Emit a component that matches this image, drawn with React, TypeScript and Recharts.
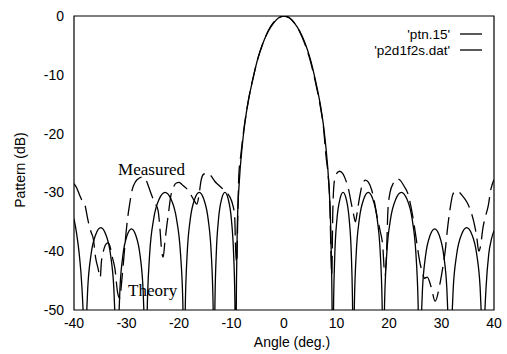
import { LineChart, Line, XAxis, YAxis, ReferenceArea, ReferenceDot, Legend } from "recharts";

const xTicks = [-40, -30, -20, -10, 0, 10, 20, 30, 40];
const yTicks = [-50, -40, -30, -20, -10, 0];
const seriesNames = ["'ptn.15'", "'p2d1f2s.dat'"];

// theory pattern ('ptn.15'), nulls pushed below the axis floor
const theoryAngle = [
  -40, -39.5, -39, -38.5, -38.2, -38,
  -37.75, -37.38, -36.76, -35.83, -34.9, -33.97, -33.04, -32.42, -32.05, -31.8,
  -31.58, -31.25, -30.7, -29.88, -29.05, -28.23, -27.4, -26.85, -26.52, -26.3,
  -26.0, -25.57, -24.84, -23.75, -22.65, -21.55, -20.46, -19.73, -19.29, -19,
  -18.77, -18.43, -17.86, -17.0, -16.15, -15.3, -14.44, -13.87, -13.53, -13.3,
  -13.14, -12.89, -12.48, -11.87, -11.25, -10.64, -10.02, -9.61, -9.36, -9.2,
  -9.05, -8.9, -8.5, -8, -7.5, -7, -6, -5, -4, -3, -2, -1, 0,
  1, 2, 3, 4, 5, 6, 7, 7.5, 8, 8.5, 8.9, 9.1, 9.3,
  9.46, 9.69, 10.08, 10.67, 11.25, 11.84, 12.42, 12.81, 13.04, 13.2,
  13.43, 13.77, 14.34, 15.2, 16.05, 16.9, 17.76, 18.33, 18.67, 18.9,
  19.18, 19.59, 20.28, 21.32, 22.35, 23.39, 24.42, 25.11, 25.52, 25.8,
  26.03, 26.38, 26.96, 27.83, 28.7, 29.57, 30.44, 31.02, 31.37, 31.6,
  31.86, 32.24, 32.88, 33.84, 34.8, 35.76, 36.72, 37.36, 37.74, 38,
  38.2, 38.5, 39, 39.5, 40,
];
const theoryDb = [
  -34.5, -37, -40.5, -46, -52, -60,
  -54, -46.2, -40.6, -37.1, -36, -37.1, -40.6, -46.2, -54, -60,
  -54.2, -46.4, -40.8, -37.3, -36.2, -37.3, -40.8, -46.4, -54.2, -60,
  -48, -40.2, -34.6, -31.1, -30, -31.1, -34.6, -40.2, -48, -60,
  -48, -40.2, -34.6, -31.1, -30, -31.1, -34.6, -40.2, -48, -60,
  -48, -40.2, -34.6, -31.1, -30, -31.1, -34.6, -40.2, -48, -60,
  -45, -36, -28, -22.5, -18.5, -15.5, -11, -7.3, -4.6, -2.6, -1.2, -0.3, 0,
  -0.3, -1.2, -2.6, -4.6, -7.3, -11, -15.5, -18.5, -22.5, -28, -36, -45, -60,
  -48, -40.2, -34.6, -31.1, -30, -31.1, -34.6, -40.2, -48, -60,
  -48, -40.2, -34.6, -31.1, -30, -31.1, -34.6, -40.2, -48, -60,
  -48, -40.2, -34.6, -31.1, -30, -31.1, -34.6, -40.2, -48, -60,
  -54.2, -46.4, -40.8, -37.3, -36.2, -37.3, -40.8, -46.4, -54.2, -60,
  -54, -46.2, -40.6, -37.1, -36, -37.1, -40.6, -46.2, -54, -60,
  -52, -46, -40.5, -38, -36.5,
];

// measured pattern ('p2d1f2s.dat')
const measuredAngle = [
  -40, -39.5, -39, -38.4, -37.9, -37.5, -37.2, -36.8, -36.3, -35.9, -35.4, -35.0,
  -34.8, -34.4, -33.9, -33.5, -33.1, -32.7, -32.2, -31.7, -31.3, -30.9, -30.5, -30.1,
  -29.8, -29.4, -28.9, -28.3, -27.6, -27, -26.4, -25.8, -25.2, -24.6, -24, -23.6,
  -23.3, -23.0, -22.7, -22.3, -22.0, -21.6, -21.1, -20.5, -20, -19.5, -19, -18.5,
  -17.8, -17.1, -16.6, -16.2, -15.8, -15.3, -14.6, -13.9, -13.2, -12.5, -11.8, -11.0,
  -10.3, -9.8, -9.4, -9.2, -9.0, -8.8, -8.6, -8.2, -7.7, -7.2, -6.5, -6, -5, -4, -3,
  -2, -1, 0, 1, 2, 3, 4, 5, 6, 7, 7.5, 8, 8.4, 8.7, 9.0, 9.1, 9.3, 9.6, 10.0, 10.6,
  11.2, 11.8, 12.3, 12.8, 13.2, 13.6, 14.0, 14.4, 14.9, 15.5, 16.1, 16.7, 17.2, 17.7,
  18.3, 18.8, 19.2, 19.5, 19.8, 20.2, 20.8, 21.5, 22.2, 22.9, 23.6, 24.2, 24.7, 25.2,
  25.8, 26.3, 26.8, 27.3, 28, 28.8, 29.6, 30.2, 30.7, 31.1, 31.6, 32.1, 32.6, 33.2,
  34, 34.8, 35.5, 36.1, 36.7, 37.1, 37.4, 37.9, 38.4, 38.9, 39.4, 40,
];
const measuredDb = [
  -28.5, -29.2, -30.3, -31.5, -32.2, -34, -35.3, -36.6, -38, -41, -43, -44.5,
  -42, -40, -38.8, -38.6, -39.3, -41, -43, -47, -48, -45, -41, -37,
  -34.5, -32, -29.5, -28.2, -27.6, -27.4, -27.7, -29, -30.5, -31.8, -33, -36.5,
  -40, -41, -38.5, -35.5, -33.5, -30.8, -29.2, -28.4, -28.3, -28.6, -29, -29.4,
  -30.3, -31.4, -32, -30.5, -28, -26.9, -26.7, -27.2, -28.1, -28.7, -29.3, -30,
  -30.8, -32, -34, -40, -42, -34, -27, -23.5, -19.6, -16.6, -13, -11, -7.3, -4.6, -2.5,
  -1.1, -0.3, 0, -0.3, -1.2, -2.7, -4.8, -7.6, -11.3, -15.8, -18.8, -23.8, -27, -31, -42, -44, -33, -28, -26.8, -26.4,
  -26.8, -28, -29.5, -31.8, -33.5, -35, -33, -30.8, -28.7, -27.9, -28.3, -29.6, -31.5, -34,
  -36.5, -39, -44, -41, -33, -30, -28.5, -27.7, -28, -29, -30.2, -32.5, -35, -38,
  -41.5, -43.5, -44.6, -44.4, -46, -48.5, -46, -43, -40, -36.5, -33, -30.5, -29.8, -29.9,
  -30.6, -31.6, -33, -34.8, -37.5, -40, -39.3, -36, -34, -32.3, -29.5, -27.8,
];

const theory = theoryAngle.map((angle, i) => ({ angle, db: theoryDb[i] }));
const measured = measuredAngle.map((angle, i) => ({ angle, db: measuredDb[i] }));

const sans = "'Liberation Sans', Arial, sans-serif";
const serif = "'Liberation Serif', 'Times New Roman', serif";

const annotation = (text: string) => (props: any) => {
  const { viewBox } = props;
  return (
    <text x={viewBox.x} y={viewBox.y} fontFamily={serif} fontSize={17} fill="#000">
      {text}
    </text>
  );
};

// gnuplot-style key: name right-aligned, short sample line after it
const renderLegend = () => (
  <div style={{ fontFamily: sans, fontSize: 13.5, color: "#000" }}>
    {seriesNames.map((name) => (
      <div
        key={name}
        style={{ display: "flex", justifyContent: "flex-end", alignItems: "center", height: 16 }}
      >
        <span>{name}</span>
        <svg width={33} height={16}>
          <line x1={10} x2={32} y1={8} y2={8} stroke="#000" strokeWidth={1.3} />
        </svg>
      </div>
    ))}
  </div>
);

export default function App() {
  return (
    <div style={{ position: "absolute", left: 0, top: 0, background: "#fff" }}>
      <LineChart width={507} height={354} margin={{ top: 16, right: 13, left: 0, bottom: 0 }}>
        <XAxis
          dataKey="angle"
          type="number"
          domain={[-40, 40]}
          ticks={xTicks}
          allowDataOverflow
          height={44}
          axisLine={false}
          tickLine={false}
          tickSize={0}
          tickMargin={8}
          tick={{ fontFamily: sans, fontSize: 14, fill: "#000" }}
          label={{
            content: ({ viewBox }: any) => (
              <text
                x={viewBox.x + viewBox.width / 2 + 8}
                y={347}
                textAnchor="middle"
                fontFamily={sans}
                fontSize={14}
                fill="#000"
              >
                Angle (deg.)
              </text>
            ),
          }}
        />
        <YAxis
          dataKey="db"
          type="number"
          domain={[-50, 0]}
          ticks={yTicks}
          allowDataOverflow
          width={74}
          axisLine={false}
          tickLine={false}
          tickSize={0}
          tickMargin={10}
          tick={{ fontFamily: sans, fontSize: 14, fill: "#000" }}
          label={{
            content: () => (
              <text
                x={25}
                y={170}
                transform="rotate(-90 25 170)"
                textAnchor="middle"
                fontFamily={sans}
                fontSize={14}
                fill="#000"
              >
                Pattern (dB)
              </text>
            ),
          }}
        />
        <Line
          data={theory}
          dataKey="db"
          name={seriesNames[0]}
          type="monotone"
          stroke="#000"
          strokeWidth={1.3}
          dot={false}
          isAnimationActive={false}
        />
        <Line
          data={measured}
          dataKey="db"
          name={seriesNames[1]}
          type="monotone"
          stroke="#000"
          strokeWidth={1.3}
          strokeDasharray="18 7"
          dot={false}
          isAnimationActive={false}
        />
        <ReferenceArea x1={-40} x2={40} y1={-50} y2={0} fill="none" stroke="#000" strokeWidth={1.2} />
        <ReferenceDot x={-31.6} y={-27.1} r={0} fill="none" stroke="none" label={annotation("Measured")} />
        <ReferenceDot x={-29.7} y={-47.7} r={0} fill="none" stroke="none" label={annotation("Theory")} />
        <Legend
          layout="horizontal"
          verticalAlign="middle"
          align="center"
          content={renderLegend}
          wrapperStyle={{ top: 26, left: 323, width: 160 }}
        />
      </LineChart>
    </div>
  );
}
